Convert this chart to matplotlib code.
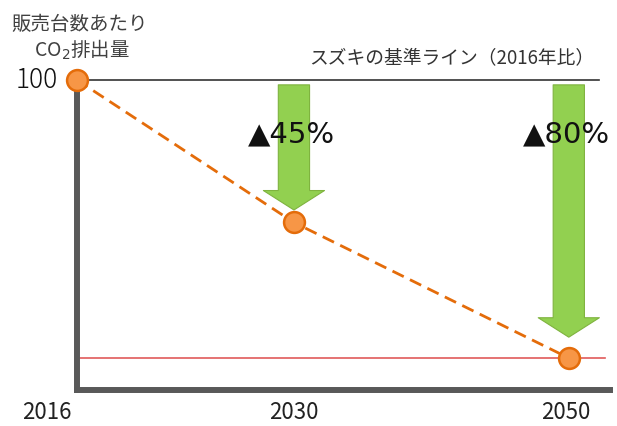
import numpy as np
import matplotlib
matplotlib.use("Agg")
import matplotlib.pyplot as plt

plt.rcParams['font.family'] = ['Noto Sans CJK JP', 'DejaVu Sans']

years = [2016, 2030, 2050]
values = [100, 59, 20]
year_labels = ['2016', '2030', '2050']
reductions = ['▲45%', '▲80%']
target_value = 20
base_value = 100
ylabel_lines = ['販売台数あたり', 'CO$_2$排出量']
base_label = 'スズキの基準ライン（2016年比）'

# non-uniform x scale to follow the schematic spacing
_ay = [2000, 2016, 2030, 2050, 2070]
_ap = [-1.1429, 0.0, 1.0, 2.267, 3.533]
def fwd(x):
    return np.interp(x, _ay, _ap)
def inv(p):
    return np.interp(p, _ap, _ay)

fig = plt.figure(figsize=(6.17, 4.26), dpi=100)
ax = fig.add_axes([77/617, 36/426, (610-77)/617, (390-80)/426])
ax.set_xscale('function', functions=(fwd, inv))
ax.set_xlim(2016, 2053)
ax.set_ylim(10.8, 100)

for s in ['top', 'right']:
    ax.spines[s].set_visible(False)
for s in ['left', 'bottom']:
    ax.spines[s].set_color('#595959')
    ax.spines[s].set_linewidth(4.3)
ax.set_yticks([])
ax.set_xticks([])

# base and target lines
ax.axhline(base_value, xmin=0, xmax=0.98, color='#333333', lw=1.2, zorder=2, clip_on=False)
ax.axhline(target_value, xmin=0, xmax=0.99, color='#E05A5A', lw=1.2, zorder=2)

# dashed trend line
ax.plot(years, values, color='#E46C0A', lw=2.0, ls=(0, (4.5, 2.5)), zorder=3, clip_on=False)

# arrows
shrinks = [9.0, 15.0]
for yr, v, sb in zip(years[1:], values[1:], shrinks):
    ax.annotate('', xy=(yr, v), xytext=(yr, base_value), xycoords='data',
                arrowprops=dict(arrowstyle='simple,head_width=4.4,head_length=1.4,tail_width=2.25',
                                mutation_scale=10, fc='#92D050', ec='#7FB33F', lw=0.8,
                                shrinkA=3.5, shrinkB=sb),
                annotation_clip=False, zorder=4)

# markers
ax.plot(years, values, 'o', ms=15, mfc='#F79646', mec='#E46C0A', mew=1.8,
        zorder=5, clip_on=False)

# reduction labels
for yr, lab in zip(years[1:], reductions):
    ax.annotate(lab, xy=(yr, base_value), xytext=(-2, -39), textcoords='offset points',
                ha='center', va='center', fontsize=21, color='#111111', zorder=6,
                family=['DejaVu Sans'])

# base line label
fig.text(452/617, 1 - 58/426, base_label, ha='center', va='center', fontsize=13.5, color='#333333')

# y-axis title and 100 label
fig.text(80/617, 1 - 24/426, ylabel_lines[0], ha='center', va='center', fontsize=14, color='#404040')
fig.text(82/617, 1 - 50/426, ylabel_lines[1], ha='center', va='center', fontsize=14, color='#404040')
ax.annotate('100', xy=(years[0], base_value), xytext=(-14, 0), textcoords='offset points',
            ha='right', va='center', fontsize=19, color='#111111', annotation_clip=False,
            fontweight='light')

# x labels
offsets = [(-4, 'right'), (0, 'center'), (-2, 'center')]
for yr, lab, (dx, ha) in zip(years, year_labels, offsets):
    ax.annotate(lab, xy=(yr, 0), xycoords=('data', 'axes fraction'), xytext=(dx, -16),
                textcoords='offset points', ha=ha, va='center', fontsize=16,
                color='#222222', annotation_clip=False)

fig.savefig('out.png', dpi=100)
